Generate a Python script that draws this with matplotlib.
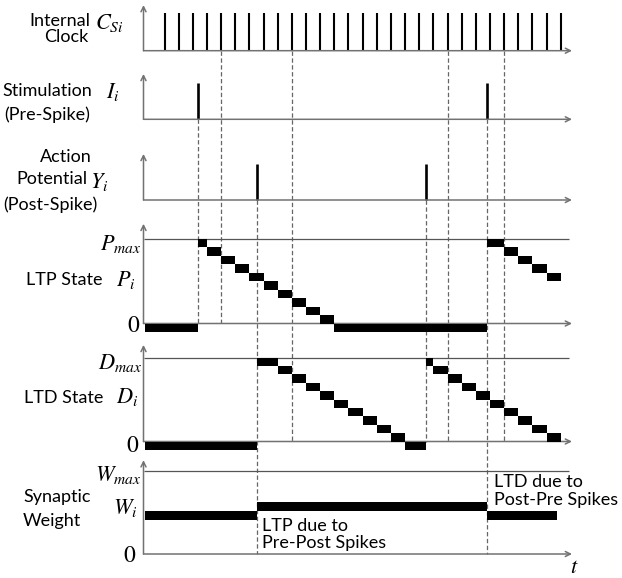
import numpy as np
import matplotlib
matplotlib.use('Agg')
import matplotlib.pyplot as plt

plt.rcParams['font.family'] = ['Lato', 'DejaVu Sans']
plt.rcParams['mathtext.fontset'] = 'stix'

# event times in clock periods (clock tick k sits at t = k)
clock_ticks = [0, 1, 2, 3, 4, 5, 6, 7, 8, 9, 10, 11, 12, 13, 14, 15, 16, 17, 18, 19,
               20, 21, 22, 23, 24, 25, 26, 27, 28]
pre_spikes = [2.39, 22.81]
post_spikes = [6.52, 18.48]
guide_ticks = [4, 9, 20, 24]

# LTP state P_i: piecewise constant between edges
P_edges = [-1.38, 2.39, 3, 4, 5, 6, 7, 8, 9, 10, 11, 12, 22.81, 24, 25, 26, 27, 28]
P_levels = [0, 10, 9, 8, 7, 6, 5, 4, 3, 2, 1, 0, 10, 9, 8, 7, 6]

# LTD state D_i
D_edges = [-1.38, 6.52, 8, 9, 10, 11, 12, 13, 14, 15, 16, 17, 18.48, 19, 20, 21, 22,
           23, 24, 25, 26, 27, 28]
D_levels = [0, 10, 9, 8, 7, 6, 5, 4, 3, 2, 1, 0, 10, 9, 8, 7, 6, 5, 4, 3, 2, 1]

# synaptic weight W_i
W_edges = [-1.38, 6.52, 22.81, 27.76]
W_levels = [5.2, 6.25, 5.2]
max_level = 10

W, H = 622, 578
fig = plt.figure(figsize=(W / 100, H / 100), dpi=100)

L_px, R_px = 140, 580
x0_px, step_px = 164.5, 14.15
X0 = (L_px - x0_px) / step_px
X1 = (R_px - x0_px) / step_px
T_AXIS = (143.5 - x0_px) / step_px
T_END = (572 - x0_px) / step_px

AX_COL = '#727272'
LINE_COL = '#555555'


def add_panel(top, bottom, base, unit):
    ax = fig.add_axes([L_px / W, 1 - bottom / H, (R_px - L_px) / W, (bottom - top) / H])
    ax.set_xlim(X0, X1)
    ax.set_ylim((base - bottom) / unit, (base - top) / unit)
    ax.axis('off')
    return ax


def draw_axes(ax, ytop):
    arrow = dict(arrowstyle='->', color=AX_COL, lw=1.1, shrinkA=0, shrinkB=0,
                 mutation_scale=9)
    ax.annotate('', xy=(T_AXIS, ytop), xytext=(T_AXIS, 0), arrowprops=arrow)
    ax.annotate('', xy=(T_END, 0), xytext=(T_AXIS, 0), arrowprops=arrow)


def draw_steps(ax, edges, levels, height=1.0):
    edges = np.array(edges)
    ax.bar(edges[:-1], height, width=np.diff(edges), bottom=np.array(levels) - height,
           align='edge', color='black', linewidth=0, zorder=3)


# panel layout: (top px, bottom px, baseline px, px per unit)
panels = {
    'clock': (0, 60, 50.7, 37.4),
    'stim': (65, 130, 119.3, 36),
    'ap': (145, 210, 200, 36),
    'P': (215, 340, 323.5, 8.45),
    'D': (335, 455, 441.5, 8.4),
    'W': (450, 570, 554, 8.3),
}

# dashed guides behind everything
ax_g = fig.add_axes([L_px / W, 0, (R_px - L_px) / W, 1])
ax_g.set_xlim(X0, X1)
ax_g.set_ylim(H, 0)
ax_g.axis('off')
ax_g.set_zorder(-1)
guides = [
    (pre_spikes[0], 'stim', 'P'),
    (guide_ticks[0], 'clock', 'P'),
    (post_spikes[0], 'ap', 'W'),
    (guide_ticks[1], 'clock', 'D'),
    (post_spikes[1], 'ap', 'D'),
    (guide_ticks[2], 'clock', 'D'),
    (pre_spikes[1], 'stim', 'W'),
    (guide_ticks[3], 'clock', 'D'),
]
for t, a, b in guides:
    ax_g.vlines(t, panels[a][2], panels[b][2], colors='#666666', linestyles=(0, (3.5, 2)),
                lw=0.9)

ax = add_panel(*panels['clock'])
draw_axes(ax, 1.22)
ax.vlines(clock_ticks, 0, 1, colors='black', lw=1.5)

ax = add_panel(*panels['stim'])
draw_axes(ax, 1.26)
ax.vlines(pre_spikes, 0, 1, colors='black', lw=1.9)

ax = add_panel(*panels['ap'])
draw_axes(ax, 1.28)
ax.vlines(post_spikes, 0, 1, colors='black', lw=1.9)

ax = add_panel(*panels['P'])
draw_axes(ax, 11.8)
ax.hlines(max_level, T_AXIS, 28.6, colors=LINE_COL, lw=0.9)
draw_steps(ax, P_edges, P_levels)

ax = add_panel(*panels['D'])
draw_axes(ax, 11.5)
ax.hlines(max_level, T_AXIS, 28.6, colors=LINE_COL, lw=0.9)
draw_steps(ax, D_edges, D_levels)

ax = add_panel(*panels['W'])
draw_axes(ax, 11.3)
ax.hlines(max_level, T_AXIS, 28.6, colors=LINE_COL, lw=0.9)
draw_steps(ax, W_edges, W_levels, height=1.1)


def label(x, y, s, ha='left', size=13):
    fig.text(x / W, 1 - y / H, s, ha=ha, va='center', fontsize=size)


# left-hand labels
label(90, 20.5, 'Internal', 'right')
label(88, 37.5, 'Clock', 'right')
label(92, 90.5, 'Stimulation', 'right')
label(90, 115, '(Pre-Spike)', 'right')
label(92, 156.5, 'Action', 'right')
label(88, 179.5, 'Potential', 'right')
label(98, 205, '(Post-Spike)', 'right')
label(103, 280, 'LTP State', 'right')
label(103, 398, 'LTD State', 'right')
label(23, 497, 'Synaptic')
label(23, 521, 'Weight')

# math symbols
label(95, 23, r'$C_{Si}$', size=16)
label(106, 92, r'$I_i$', size=16)
label(90, 182, r'$Y_i$', size=16)
label(142, 244, r'$P_{max}$', 'right', size=16)
label(116, 280, r'$P_i$', size=16)
label(140, 326, r'$\mathrm{0}$', 'right', size=17)
label(142, 363, r'$D_{max}$', 'right', size=16)
label(116, 397, r'$D_i$', size=16)
label(139, 445, r'$\mathrm{0}$', 'right', size=17)
label(142, 475, r'$W_{max}$', 'right', size=16)
label(113, 508, r'$W_i$', size=16)
label(136, 555, r'$\mathrm{0}$', 'right', size=17)
label(570, 567, r'$t$', size=16)

# annotations
label(262, 526, 'LTP due to')
label(262, 543, 'Pre-Post Spikes')
label(494, 482, 'LTD due to')
label(494, 500, 'Post-Pre Spikes')

fig.savefig('out.png', dpi=100)
